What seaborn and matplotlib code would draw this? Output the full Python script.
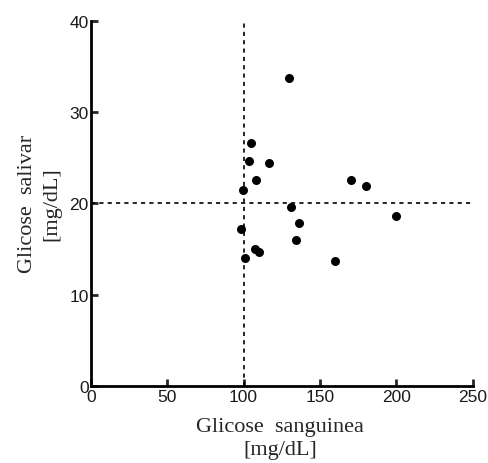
import matplotlib
matplotlib.use("Agg")
import matplotlib.pyplot as plt
import seaborn as sns
import pandas as pd

blood_glucose = [129.6, 104.7, 103.6, 116.5, 107.8, 99.7, 170.2, 179.8, 130.7, 200.0,
                 136.5, 98.4, 134.6, 107.5, 110.0, 100.6, 159.7]
saliva_glucose = [33.7, 26.6, 24.6, 24.4, 22.6, 21.5, 22.6, 21.9, 19.6, 18.6,
                  17.8, 17.2, 16.0, 15.0, 14.7, 14.0, 13.7]
x_ticks = [0, 50, 100, 150, 200, 250]
y_ticks = [0, 10, 20, 30, 40]
x_ref = 100
y_ref = 20

sns.set_style("ticks")
df = pd.DataFrame({"x": blood_glucose, "y": saliva_glucose})

fig = plt.figure(figsize=(4.88, 4.64), dpi=100)
ax = fig.add_axes([0.186, 0.166, 0.783, 0.787])

ax.axvline(x_ref, color="black", linestyle=(0, (2.5, 2.5)), linewidth=1.2, zorder=1)
ax.axhline(y_ref, color="black", linestyle=(0, (2.5, 2.5)), linewidth=1.2, zorder=1)

sns.scatterplot(data=df, x="x", y="y", ax=ax, color="black", s=42,
                edgecolor="black", linewidth=0, zorder=3)

ax.set_xlim(0, 250)
ax.set_ylim(0, 40)
ax.set_xticks(x_ticks)
ax.set_yticks(y_ticks)
ax.set_xticklabels([str(t) for t in x_ticks], family="Liberation Sans", fontsize=12.5, color="#1a1a1a")
ax.set_yticklabels([str(t) for t in y_ticks], family="Liberation Sans", fontsize=12.5, color="#1a1a1a")
ax.tick_params(direction="in", length=5, width=2, pad=1.5)
ax.tick_params(axis="x", pad=2.5)

for s in ["top", "right"]:
    ax.spines[s].set_visible(False)
for s in ["left", "bottom"]:
    ax.spines[s].set_linewidth(2)
    ax.spines[s].set_color("black")

ax.set_xlabel("Glicose  sanguinea\n[mg/dL]", family="Liberation Serif", fontsize=16,
              linespacing=1.3)
ax.set_ylabel("Glicose  salivar\n[mg/dL]", family="Liberation Serif", fontsize=16,
              linespacing=1.35)
ax.xaxis.set_label_coords(0.495, -0.085)
ax.yaxis.set_label_coords(-0.078, 0.5)

fig.savefig("out.png", dpi=100)
